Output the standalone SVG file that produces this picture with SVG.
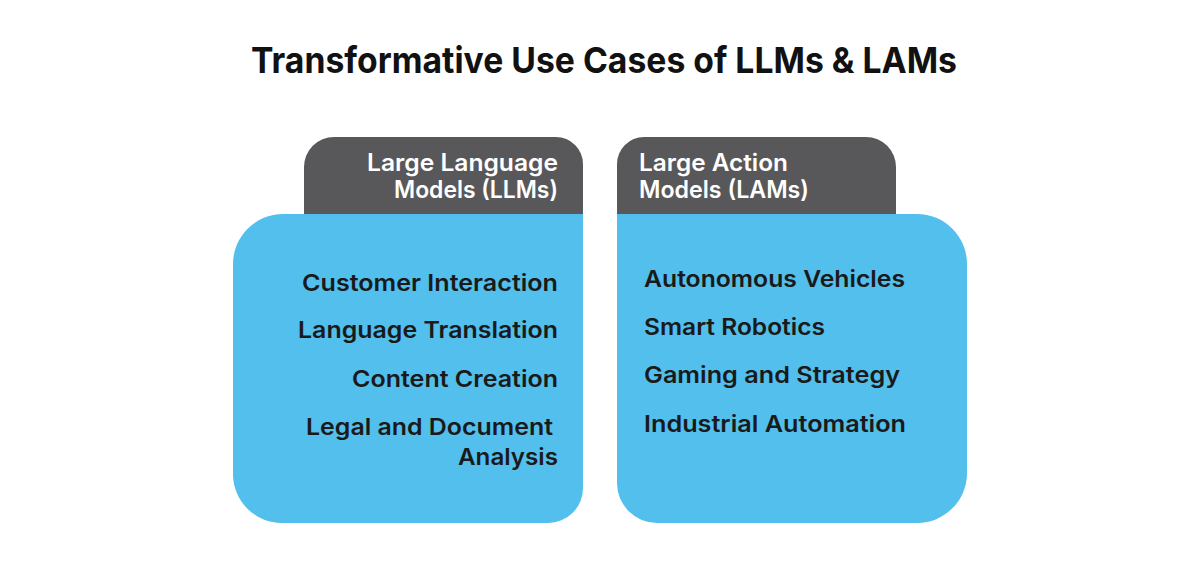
<svg xmlns="http://www.w3.org/2000/svg" width="1200" height="566" viewBox="0 0 1200 566">
<style>
.title{font-family:Inter,"Liberation Sans",sans-serif;font-weight:700;font-size:36px;fill:#111}
.tab{fill:#58585a}
.card{fill:#52bfed}
.hd{font-family:Inter,"Liberation Sans",sans-serif;font-weight:600;font-size:24px;fill:#fff}
.it{font-family:Inter,"Liberation Sans",sans-serif;font-weight:600;font-size:23px;fill:#1a1a1a}
</style>
<rect width="1200" height="566" fill="#fff"/>
<text class="title" x="251" y="73" textLength="706" lengthAdjust="spacingAndGlyphs">Transformative Use Cases of LLMs &amp; LAMs</text>
<g id="llm">
<path class="tab" d="M304,214 V167 A30,30 0 0 1 334,137 H556 A27,27 0 0 1 583,164 V214 Z"/>
<path class="card" d="M283,214 H583 V488 A35,35 0 0 1 548,523 H282 A49,49 0 0 1 233,474 V264 A50,50 0 0 1 283,214 Z"/>
<text class="hd" x="558" y="171" text-anchor="end" textLength="191" lengthAdjust="spacingAndGlyphs">Large Language</text>
<text class="hd" x="558" y="198" text-anchor="end" textLength="164" lengthAdjust="spacingAndGlyphs">Models (LLMs)</text>
<text class="it" x="558" y="291" text-anchor="end" textLength="256" lengthAdjust="spacingAndGlyphs">Customer Interaction</text>
<text class="it" x="558" y="338" text-anchor="end" textLength="260" lengthAdjust="spacingAndGlyphs">Language Translation</text>
<text class="it" x="558" y="387" text-anchor="end" textLength="206" lengthAdjust="spacingAndGlyphs">Content Creation</text>
<text class="it" x="553" y="435" text-anchor="end" textLength="247" lengthAdjust="spacingAndGlyphs">Legal and Document</text>
<text class="it" x="558" y="465" text-anchor="end" textLength="100" lengthAdjust="spacingAndGlyphs">Analysis</text>
</g>
<g id="lam">
<path class="tab" d="M617,214 V164 A27,27 0 0 1 644,137 H866 A30,30 0 0 1 896,167 V214 Z"/>
<path class="card" d="M617,214 H917 A50,50 0 0 1 967,264 V473 A50,50 0 0 1 917,523 H657 A40,40 0 0 1 617,483 Z"/>
<text class="hd" x="639" y="171" textLength="149" lengthAdjust="spacingAndGlyphs">Large Action</text>
<text class="hd" x="639" y="198" textLength="170" lengthAdjust="spacingAndGlyphs">Models (LAMs)</text>
<text class="it" x="644" y="287" textLength="261" lengthAdjust="spacingAndGlyphs">Autonomous Vehicles</text>
<text class="it" x="644" y="335" textLength="181" lengthAdjust="spacingAndGlyphs">Smart Robotics</text>
<text class="it" x="644" y="383" textLength="256" lengthAdjust="spacingAndGlyphs">Gaming and Strategy</text>
<text class="it" x="644" y="432" textLength="262" lengthAdjust="spacingAndGlyphs">Industrial Automation</text>
</g>
<g id="connectors"></g>
</svg>
